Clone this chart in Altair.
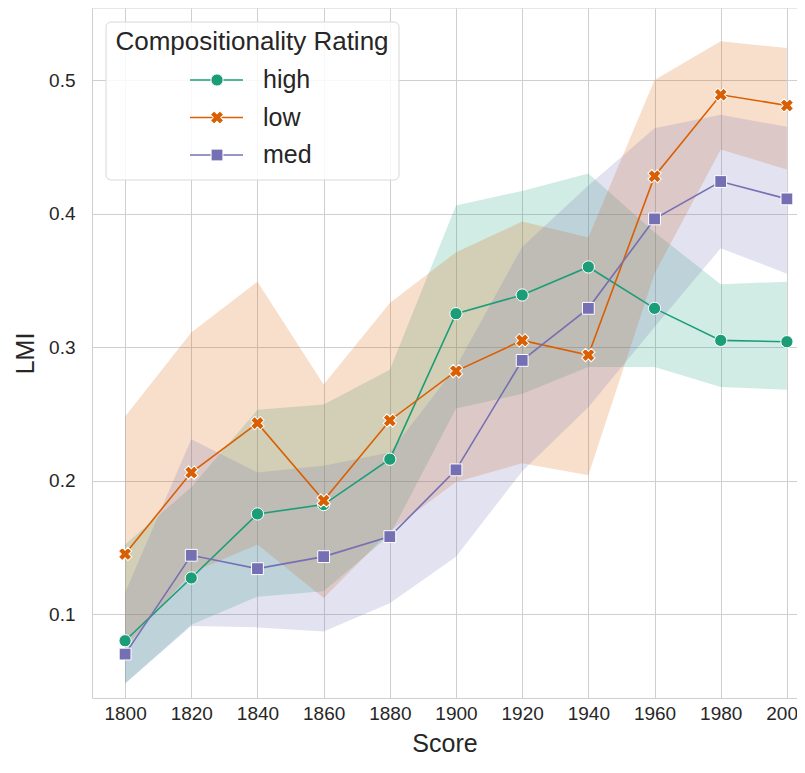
import altair as alt
import pandas as pd

years = [1800, 1820, 1840, 1860, 1880, 1900, 1920, 1940, 1960, 1980, 2000]
cats = ["high", "low", "med"]
colors = ["#1b9e77", "#d95f02", "#7570b3"]

high_mean = [0.080, 0.127, 0.175, 0.182, 0.216, 0.325, 0.339, 0.360, 0.329, 0.305, 0.304]
high_lo = [0.048, 0.092, 0.113, 0.117, 0.159, 0.254, 0.265, 0.285, 0.285, 0.270, 0.268]
high_hi = [0.152, 0.195, 0.253, 0.257, 0.283, 0.406, 0.417, 0.430, 0.386, 0.347, 0.349]

low_mean = [0.145, 0.206, 0.243, 0.185, 0.245, 0.282, 0.305, 0.294, 0.428, 0.489, 0.481]
low_lo = [0.075, 0.131, 0.152, 0.112, 0.162, 0.199, 0.213, 0.204, 0.355, 0.448, 0.433]
low_hi = [0.248, 0.311, 0.349, 0.272, 0.333, 0.371, 0.394, 0.382, 0.500, 0.529, 0.524]

med_mean = [0.070, 0.144, 0.134, 0.143, 0.158, 0.208, 0.290, 0.329, 0.396, 0.424, 0.411]
med_lo = [0.048, 0.091, 0.090, 0.087, 0.108, 0.143, 0.207, 0.255, 0.315, 0.374, 0.355]
med_hi = [0.116, 0.231, 0.206, 0.211, 0.221, 0.285, 0.375, 0.421, 0.464, 0.474, 0.465]

x_ticks = [1800, 1820, 1840, 1860, 1880, 1900, 1920, 1940, 1960, 1980, 2000]
y_ticks = [0.1, 0.2, 0.3, 0.4, 0.5]

series = {
    "high": (high_mean, high_lo, high_hi),
    "low": (low_mean, low_lo, low_hi),
    "med": (med_mean, med_lo, med_hi),
}
rows = []
for c in cats:
    m, lo, hi = series[c]
    for yr, a, b, d in zip(years, m, lo, hi):
        rows.append({"Score": yr, "cat": c, "mean": a, "lo": b, "hi": d})
df = pd.DataFrame(rows)

W, H = 705, 690
FONT = "Liberation Sans"
TXT = "#262626"
GRID = "#cfcfcf"

xs = alt.Scale(domain=[1790, 2003.05], nice=False, zero=False)
ys = alt.Scale(domain=[0.0371, 0.554], nice=False, zero=False)
cs = alt.Scale(domain=cats, range=colors)

X = alt.X("Score:Q", scale=xs,
          axis=alt.Axis(values=x_ticks, format="d", title="Score", labelPadding=6,
                        labelFontSize=19, titleFontSize=25,
                        titleBaseline="alphabetic", titleY=53))
base = alt.Chart(df)

band = base.mark_area(opacity=0.2).encode(
    x=X,
    y=alt.Y("lo:Q", scale=ys,
            axis=alt.Axis(values=y_ticks, format=".1f", title="LMI", labelPadding=17,
                          labelFontSize=19, titleFontSize=25,
                          titleBaseline="middle", titleX=-67)),
    y2="hi:Q",
    color=alt.Color("cat:N", scale=cs, legend=None),
)
line = base.mark_line(strokeWidth=1.6).encode(
    x=X, y=alt.Y("mean:Q", scale=ys), color=alt.Color("cat:N", scale=cs, legend=None)
)

shapes = {"high": ("circle", 0, 150), "low": ("cross", 45, 180), "med": ("square", 0, 140)}
pts = []
for c in cats:
    shp, ang, sz = shapes[c]
    pts.append(
        base.transform_filter(alt.datum.cat == c).mark_point(
            filled=True, shape=shp, angle=ang, size=sz, opacity=1,
            stroke="white", strokeWidth=1
        ).encode(x=X, y=alt.Y("mean:Q", scale=ys),
                 fill=alt.Color("cat:N", scale=cs, legend=None))
    )

top_rule = alt.Chart(pd.DataFrame({"a": [0]})).mark_rule(color=GRID, strokeWidth=1).encode(
    x=alt.value(0), x2=alt.value(W), y=alt.value(0)
)

# manual legend (box, title, entries)
leg_df = pd.DataFrame({"a": [0]})
leg = [
    alt.Chart(leg_df).mark_rect(fill="white", fillOpacity=0.85, stroke="#d8d8d8",
                                strokeWidth=1, cornerRadius=5).encode(
        x=alt.value(14), x2=alt.value(307), y=alt.value(14), y2=alt.value(172)),
    alt.Chart(leg_df).mark_text(text="Compositionality Rating", font=FONT, fontSize=26,
                                color=TXT, align="center", baseline="middle").encode(
        x=alt.value(160), y=alt.value(34)),
]
for i, c in enumerate(cats):
    yy = 72 + i * 37.5
    shp, ang, sz = shapes[c]
    col = colors[i]
    leg.append(alt.Chart(leg_df).mark_rule(color=col, strokeWidth=1.6).encode(
        x=alt.value(98), x2=alt.value(151), y=alt.value(yy)))
    leg.append(alt.Chart(leg_df).mark_point(filled=True, shape=shp, angle=ang, size=sz,
                                            color=col, opacity=1, stroke="white",
                                            strokeWidth=1).encode(
        x=alt.value(125), y=alt.value(yy)))
    leg.append(alt.Chart(leg_df).mark_text(text=c, font=FONT, fontSize=25, color=TXT,
                                           align="left", baseline="middle").encode(
        x=alt.value(171), y=alt.value(yy)))

chart = alt.layer(band, line, *pts, top_rule, *leg).properties(
    width=W, height=H,
    autosize=alt.AutoSizeParams(type="none"),
    padding={"left": 84, "top": 0, "right": 0, "bottom": 59},
).configure_view(stroke=None).configure_axis(
    domainColor=GRID, gridColor=GRID, gridWidth=1, ticks=False,
    labelFont=FONT, titleFont=FONT, labelColor=TXT, titleColor=TXT,
    titleFontWeight="normal",
)

chart.save("out.html", embed_options={"renderer": "svg", "actions": False})
